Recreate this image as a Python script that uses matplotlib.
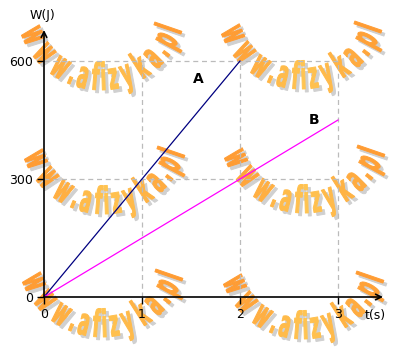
import numpy as np
import matplotlib
matplotlib.use("Agg")
import matplotlib.pyplot as plt
from matplotlib.patheffects import AbstractPathEffect
from matplotlib.transforms import Affine2D

# data
t_a = [0, 2]
w_a = [0, 600]
t_b = [0, 3]
w_b = [0, 450]
xticks = [1, 2, 3]
yticks = [300, 600]
mark = "www.afizyka.pl"


class Stretch(AbstractPathEffect):
    # squeeze / stretch each glyph in its own frame, baseline kept in place,
    # plus an outline in the same colour to make it heavier
    def __init__(self, sx, sy, lw):
        super().__init__()
        self.sx, self.sy, self.lw = sx, sy, lw

    def draw_path(self, renderer, gc, tpath, affine, rgbFace=None):
        ext = tpath.get_extents()
        cx = (ext.x0 + ext.x1) / 2
        t = Affine2D().translate(-cx, 0).scale(self.sx, self.sy).translate(cx, 0) + affine
        gc0 = renderer.new_gc()
        gc0.copy_properties(gc)
        gc0.set_linewidth(self.lw)
        gc0.set_joinstyle("round")
        renderer.draw_path(gc0, tpath, t, rgbFace)
        gc0.restore()


W, H = 409, 352
fig = plt.figure(figsize=(W / 100, H / 100), dpi=100)
fig.patch.set_facecolor("white")

# watermark arcs (pixel centres, y down)
centres = [(101, 5), (301, 4), (104, 129), (304, 128), (102, 252), (303, 254)]
widths = {"w": 1.4, ".": 0.45, "a": 1.0, "f": 0.6, "i": 0.5, "z": 0.8,
          "y": 1.0, "k": 1.1, "p": 1.0, "l": 0.6}
wts = np.array([widths[c] for c in mark])
cum = np.cumsum(wts) - wts / 2
frac = (cum - cum[0]) / (cum[-1] - cum[0])
a0, a1 = 204, 341
r = 85
for cx, cy in centres:
    for i, ch in enumerate(mark):
        ang = a0 + (a1 - a0) * frac[i]
        rad = np.deg2rad(ang)
        px = cx + r * np.cos(rad)
        py = cy - r * np.sin(rad)
        m = 1 - abs(frac[i] - 0.5) * 2
        col = (1.0, 0.61 + 0.16 * m, 0.20 + 0.12 * m)
        for dx, dy, c in [(3, 3, "#d0d0d0"), (0, 0, col)]:
            fig.text((px + dx) / W, 1 - (py + dy) / H, ch, color=c,
                     fontsize=18, fontweight="bold", family="DejaVu Sans",
                     rotation=ang + 90, rotation_mode="anchor",
                     ha="center", va="baseline", zorder=-5,
                     path_effects=[Stretch(0.66, 1.5, 0.7)])

ax = fig.add_axes([44 / W, (H - 297) / H, 339 / W, 267 / H])
ax.patch.set_visible(False)
for s in ax.spines.values():
    s.set_visible(False)
ax.set_xlim(0, 3.46)
ax.set_ylim(0, 679)

ax.hlines(yticks, 0, 3, colors="#bbbbbb", linestyles=(0, (4, 3)), lw=0.9)
ax.vlines(xticks, 0, 600, colors="#bbbbbb", linestyles=(0, (4, 3)), lw=0.9)

ax.plot(t_a, w_a, color="#000080", lw=0.9)
ax.plot(t_b, w_b, color="#ff00ff", lw=0.9)

ax.annotate("", xy=(3.46, 0), xytext=(0, 0), annotation_clip=False,
            arrowprops=dict(arrowstyle="->", lw=1.2, color="black",
                            shrinkA=0, shrinkB=0))
ax.annotate("", xy=(0, 679), xytext=(0, 0), annotation_clip=False,
            arrowprops=dict(arrowstyle="->", lw=1.2, color="black",
                            shrinkA=0, shrinkB=0))

ax.set_xticks([0] + xticks)
ax.set_yticks([0] + yticks)
ax.set_xticklabels(["0", "1", "2", "3"])
ax.set_yticklabels(["0", "300", "600"])
ax.tick_params(axis="both", length=5, width=1, colors="black", labelsize=9,
               pad=3)

ax.text(-0.02, 700, "W(J)", ha="center", va="bottom", fontsize=9)
ax.text(3.38, -30, "t(s)", ha="center", va="top", fontsize=9)
ax.text(1.58, 555, "A", fontsize=10, fontweight="bold", ha="center", va="center")
ax.text(2.76, 450, "B", fontsize=10, fontweight="bold", ha="center", va="center")

fig.savefig("out.png", dpi=100)
